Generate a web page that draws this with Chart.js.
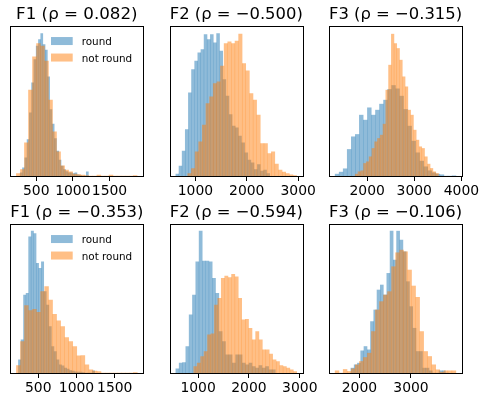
<!DOCTYPE html>
<html>
<head>
<meta charset="utf-8">
<script src="https://cdn.jsdelivr.net/npm/chart.js@4.4.1/dist/chart.umd.min.js"></script>
<style>
  html, body { margin: 0; padding: 0; background: #fff; }
  #wrap { position: relative; width: 482px; height: 401px; overflow: hidden; }
  canvas { position: absolute; }
</style>
</head>
<body>
<div id="wrap"></div>
<script>
// Panel titles, x ranges and tick labels (row 1 then row 2)
const titles = ['F1 (ρ = 0.082)', 'F2 (ρ = −0.500)', 'F3 (ρ = −0.315)',
                'F1 (ρ = −0.353)', 'F2 (ρ = −0.594)', 'F3 (ρ = −0.106)'];
const xMin = [146, 500, 1191, 135, 442, 1410];
const xMax = [1963, 3090, 4015, 1874, 3059, 3992];
const xTicks = [[500, 1000, 1500], [1000, 2000, 3000], [2000, 3000, 4000],
                [500, 1000, 1500], [1000, 2000, 3000], [2000, 3000]];
const yMax = [450, 450, 450, 448, 448, 448];

// Histogram bins: first edge and bin width for each series
const roundStart = [280, 618, 1319, 240, 561, 1833];
const roundWidth = [31.1, 61, 85.6, 33.3, 65.3, 63.3];
const notRoundStart = [228, 850, 1745, 214, 913, 1527];
const notRoundWidth = [55, 70.7, 59, 52.7, 67.6, 78.2];

// Bar heights (density, arbitrary units), 30 bins each
const roundF1a = [10, 25, 55, 110, 190, 280, 350, 390, 410, 428, 395, 378, 298, 200, 156, 113, 75, 48, 30, 20, 14, 10, 10, 8, 10, 4, 2, 0, 0, 13];
const notRoundF1a = [8, 20, 100, 258, 358, 398, 390, 345, 228, 133, 73, 31, 18, 13, 6, 5, 3, 2, 0, 0, 3, 0, 0, 3, 0, 0, 0, 0, 0, 2];
const roundF2a = [6, 30, 75, 140, 250, 320, 345, 370, 380, 425, 410, 425, 400, 428, 375, 290, 240, 185, 150, 145, 120, 100, 70, 48, 40, 20, 35, 15, 18, 8];
const notRoundF2a = [8, 23, 73, 103, 153, 218, 238, 278, 283, 330, 398, 403, 398, 405, 426, 338, 316, 248, 228, 183, 98, 98, 68, 73, 36, 18, 12, 8, 4, 2];
const roundF3a = [6, 12, 22, 80, 118, 125, 183, 168, 205, 183, 198, 216, 228, 260, 272, 262, 240, 200, 150, 105, 70, 45, 28, 16, 10, 6, 4, 0, 0, 1];
const notRoundF3a = [6, 13, 16, 38, 43, 58, 83, 103, 113, 123, 156, 258, 333, 426, 398, 383, 348, 298, 268, 198, 183, 138, 108, 88, 83, 58, 36, 23, 13, 8];
const roundF1b = [40, 100, 235, 240, 410, 427, 420, 330, 315, 335, 245, 205, 140, 80, 65, 40, 25, 22, 15, 12, 8, 6, 4, 3, 3, 2, 0, 0, 0, 7];
const notRoundF1b = [23, 95, 203, 188, 192, 183, 245, 260, 220, 177, 157, 140, 107, 95, 80, 52, 53, 25, 10, 6, 5, 0, 0, 0, 0, 0, 0, 0, 0, 2];
const roundF2b = [13, 30, 32, 80, 175, 235, 335, 427, 337, 337, 335, 285, 240, 125, 95, 55, 55, 30, 55, 55, 30, 25, 30, 20, 15, 23, 15, 20, 10, 10];
const notRoundF2b = [20, 30, 50, 65, 115, 118, 205, 225, 285, 292, 287, 297, 290, 225, 160, 162, 135, 100, 125, 100, 70, 70, 57, 40, 35, 23, 20, 15, 10, 5];
const roundF3b = [15, 25, 30, 67, 80, 70, 155, 190, 250, 265, 235, 300, 427, 340, 427, 400, 365, 275, 200, 135, 65, 65, 15, 15, 7, 0, 0, 7, 7, 0];
const notRoundF3b = [7, 0, 11, 5, 13, 25, 35, 47, 60, 125, 190, 215, 235, 245, 320, 362, 370, 365, 310, 262, 228, 125, 65, 50, 25, 10, 3, 7, 7, 7];

const roundHeights = [roundF1a, roundF2a, roundF3a, roundF1b, roundF2b, roundF3b];
const notRoundHeights = [notRoundF1a, notRoundF2a, notRoundF3a, notRoundF1b, notRoundF2b, notRoundF3b];
const legendLabels = ['round', 'not round'];

const blue = 'rgba(31,119,180,0.5)';
const orange = 'rgba(255,127,14,0.5)';
const font = 'DejaVu Sans';

// Page layout (axes boxes in page pixels)
const axLeft = [10.3, 169.7, 329.0];
const axWidth = 133.1;
const rowTop = [0, 198];
const canvasH = [206, 205];
const canvasW = 178;

// Function to turn bins into bar points
function binPoints(start, width, heights) {
    return heights.map((h, k) => ({ x: start + width * (k + 0.5), y: h }));
}

// Plugin: axes frame and legend
function framePlugin(withLegend) {
    return {
        id: 'frame',
        afterDraw(chart) {
            const ctx = chart.ctx;
            const a = chart.chartArea;
            ctx.save();
            ctx.strokeStyle = '#000';
            ctx.lineWidth = 1;
            const l = Math.round(a.left), t = Math.round(a.top);
            const r = Math.round(a.right), b = Math.round(a.bottom);
            ctx.strokeRect(l + 0.5, t + 0.5, r - l, b - t);

            if (withLegend) {
                const colors = [blue, orange];
                ctx.font = '10.4px "' + font + '"';
                ctx.textBaseline = 'alphabetic';
                ctx.textAlign = 'left';
                legendLabels.forEach((label, j) => {
                    const base = a.top + 19 + j * 16.5;
                    ctx.fillStyle = colors[j];
                    ctx.fillRect(a.left + 40.7, base - 8, 21.7, 8);
                    ctx.fillStyle = '#000';
                    ctx.fillText(label, a.left + 71.4, base);
                });
            }
            ctx.restore();
        }
    };
}

const wrap = document.getElementById('wrap');

for (let i = 0; i < 6; i++) {
    const row = Math.floor(i / 3);
    const col = i % 3;
    const left = Math.floor(axLeft[col]) - 22;
    const padLeft = axLeft[col] - left;
    const padRight = canvasW - padLeft - axWidth;

    const canvas = document.createElement('canvas');
    canvas.width = canvasW;
    canvas.height = canvasH[row];
    canvas.style.left = left + 'px';
    canvas.style.top = rowTop[row] + 'px';
    wrap.appendChild(canvas);

    const ticks = xTicks[i];
    const setTicks = s => { s.ticks = ticks.map(v => ({ value: v })); };
    const barStyle = {
        barPercentage: 1,
        categoryPercentage: 1,
        grouped: false,
        borderWidth: 0,
        inflateAmount: 0.2
    };

    new Chart(canvas, {
        type: 'bar',
        data: {
            datasets: [
                Object.assign({
                    label: legendLabels[0],
                    data: binPoints(roundStart[i], roundWidth[i], roundHeights[i]),
                    xAxisID: 'x',
                    backgroundColor: blue,
                    order: 2
                }, barStyle),
                Object.assign({
                    label: legendLabels[1],
                    data: binPoints(notRoundStart[i], notRoundWidth[i], notRoundHeights[i]),
                    xAxisID: 'x2',
                    backgroundColor: orange,
                    order: 1
                }, barStyle)
            ]
        },
        options: {
            responsive: false,
            animation: false,
            devicePixelRatio: 1,
            layout: { padding: { left: padLeft, right: padRight, top: 0, bottom: 0 } },
            plugins: {
                legend: { display: false },
                tooltip: { enabled: false },
                title: {
                    display: true,
                    text: titles[i],
                    color: '#000',
                    font: { family: font, size: 16.7, weight: 'normal' },
                    padding: { top: 4.5, bottom: 1.5 }
                }
            },
            scales: {
                x: {
                    type: 'linear',
                    min: xMin[i],
                    max: xMax[i],
                    offset: false,
                    afterBuildTicks: setTicks,
                    afterFit: s => { s.height = 30; },
                    border: { display: false },
                    grid: {
                        display: true,
                        offset: false,
                        drawOnChartArea: false,
                        drawTicks: true,
                        tickLength: 5,
                        tickColor: '#000',
                        tickWidth: 1
                    },
                    ticks: {
                        color: '#000',
                        font: { family: font, size: 13.9 },
                        padding: 2,
                        autoSkip: false,
                        maxRotation: 0,
                        minRotation: 0,
                        callback: v => String(v)
                    }
                },
                x2: {
                    type: 'linear',
                    min: xMin[i],
                    max: xMax[i],
                    offset: false,
                    display: false,
                    afterBuildTicks: setTicks
                },
                y: { min: 0, max: yMax[i], display: false }
            }
        },
        plugins: [framePlugin(col === 0)]
    });
}
</script>
</body>
</html>
